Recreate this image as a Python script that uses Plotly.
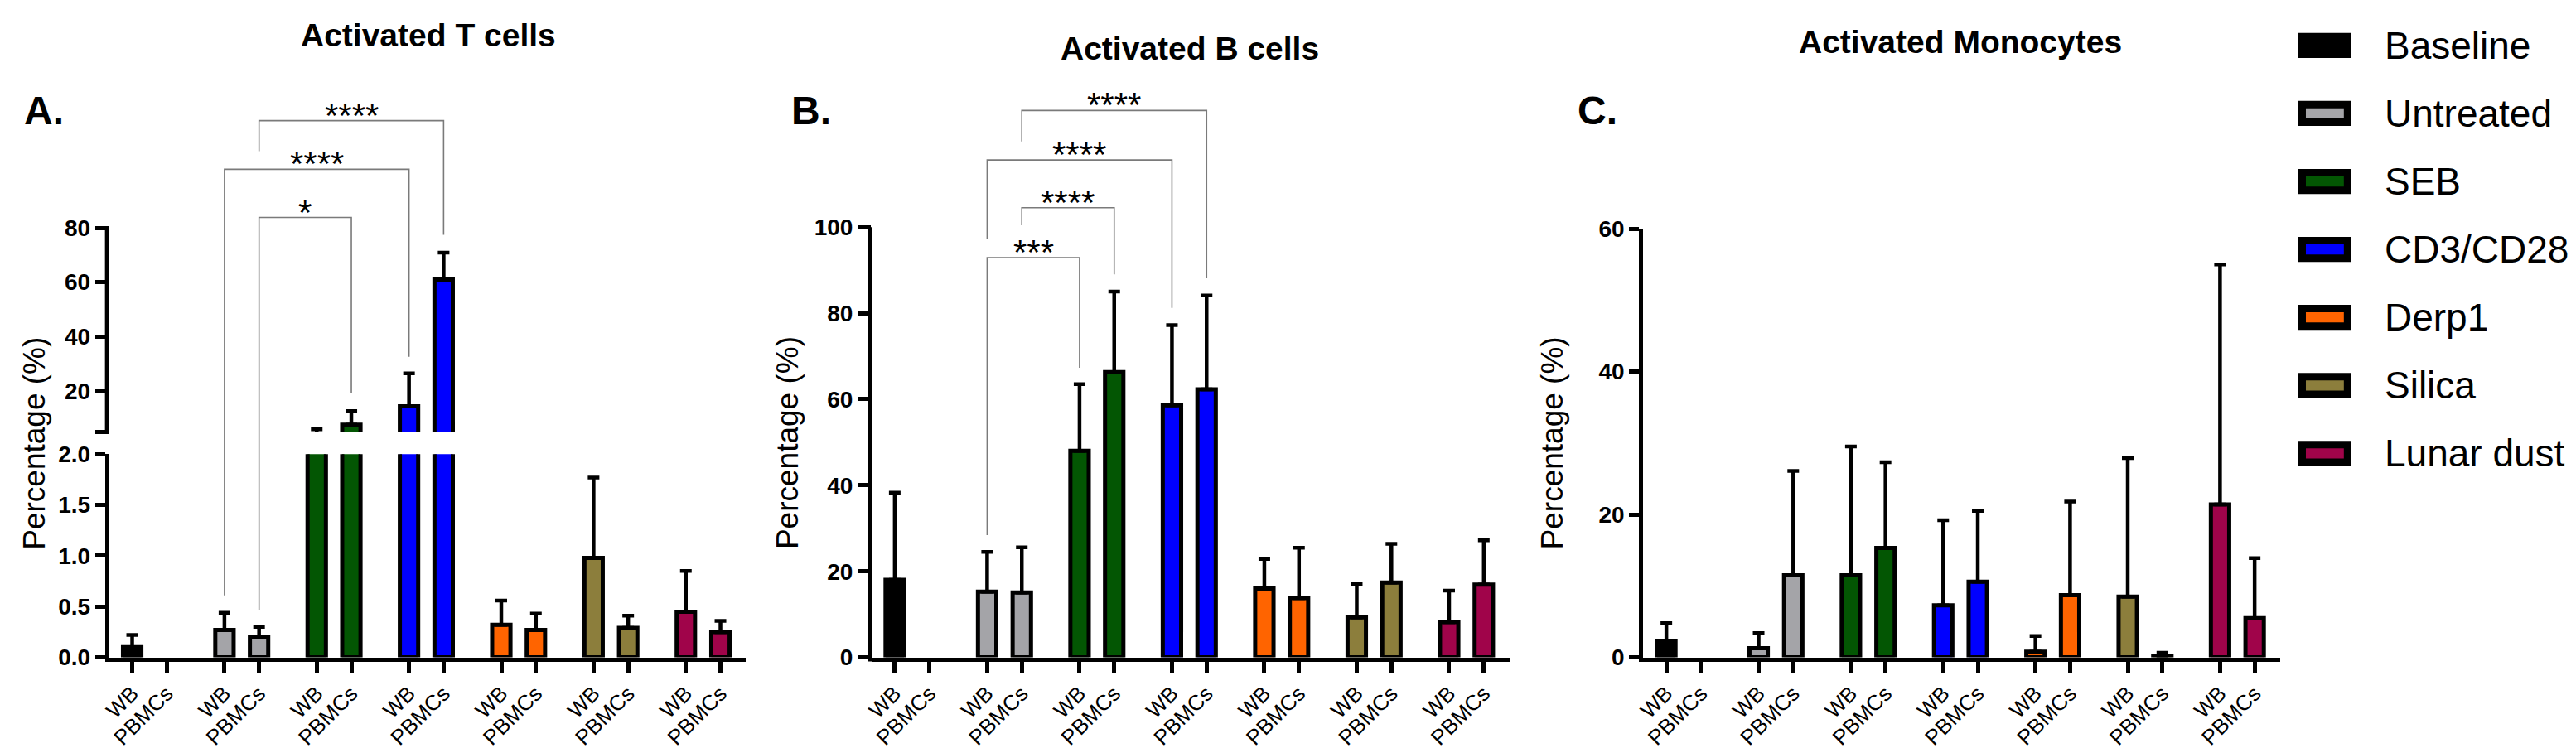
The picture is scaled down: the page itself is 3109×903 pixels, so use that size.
import plotly.graph_objects as go

W, H = 3109, 903

treatments = ["Baseline", "Untreated", "SEB", "CD3/CD28", "Derp1", "Silica", "Lunar dust"]
colors = ["#000000", "#A4A4A8", "#035603", "#0000FF", "#FF6400", "#8C7E3C", "#A0044A"]
sources = ["WB", "PBMCs"]

# activated T cells (%): mean and upper SD, WB and PBMCs (no baseline PBMCs sample)
t_wb = [0.10, 0.27, 4.0, 14.4, 0.32, 0.98, 0.45]
t_wb_sd = [0.12, 0.17, 1.9, 12.1, 0.24, 0.79, 0.40]
t_pb = [None, 0.20, 7.6, 61.0, 0.27, 0.29, 0.25]
t_pb_sd = [None, 0.10, 5.0, 9.9, 0.16, 0.12, 0.11]

# activated B cells (%)
b_wb = [18.0, 15.3, 48.0, 58.6, 16.0, 9.3, 8.2]
b_wb_sd = [20.3, 9.2, 15.5, 18.6, 6.9, 7.8, 7.3]
b_pb = [None, 15.1, 66.3, 62.3, 13.8, 17.4, 16.9]
b_pb_sd = [None, 10.5, 18.7, 21.8, 11.7, 9.0, 10.3]

# activated monocytes (%)
m_wb = [2.3, 1.3, 11.5, 7.3, 0.8, 8.5, 21.4]
m_wb_sd = [2.5, 2.1, 18.0, 11.9, 2.2, 19.4, 33.6]
m_pb = [None, 11.5, 15.3, 10.6, 8.7, 0.2, 5.5]
m_pb_sd = [None, 14.6, 12.0, 9.9, 13.1, 0.45, 8.4]

# significance brackets: left bar, right bar, stars, top, left leg end, right leg end
# a bar is (treatment index, source index)
t_sig = [((1, 1), (2, 1), "*", 83.8, (0.47, "low"), (19.1, "up")),
         ((1, 0), (3, 0), "****", 101.5, (0.61, "low"), (32.6, "up")),
         ((1, 1), (3, 1), "****", 119.4, (108.2, "up"), (77.4, "up"))]
b_sig = [((1, 0), (2, 0), "***", 92.9, 28.4, 67.3),
         ((1, 1), (2, 1), "****", 104.5, 100.4, 89.0),
         ((1, 0), (3, 0), "****", 115.6, 97.2, 81.2),
         ((1, 1), (3, 1), "****", 127.1, 119.9, 88.1)]

FONT = "Arial, Liberation Sans, sans-serif"
GROUP = 8 / 3


def pos(g, s):
    return g * GROUP + s


def fx(p):
    return p / W


def fy(p):
    return 1 - p / H


# geometry (pixels)
A_X, B_X, C_X = (115, 886), (1038, 1810), (1972, 2743)
X_RANGE = [-0.667, 17.74]
A_LOW_Y, A_LOW_R = (798, 544), [0, 2]
A_UP_Y, A_UP_R = (516, 60), [5, 139.1]
B_Y, B_R = (798, 60), [0, 137.2]
C_Y, C_R = (798, 262), [0, 60]


def a_paper(v, part):
    (b, t), (r0, r1) = (A_LOW_Y, A_LOW_R) if part == "low" else (A_UP_Y, A_UP_R)
    return fy(b) + (v - r0) / (r1 - r0) * (fy(t) - fy(b))


fig = go.Figure()


def add_bars(wb, wb_sd, pb, pb_sd, xa, ya):
    for i, name in enumerate(treatments):
        fig.add_trace(go.Bar(
            x=[pos(i, 0), pos(i, 1)], y=[wb[i], pb[i]], width=0.53, name=name,
            marker=dict(color=colors[i], line=dict(color="black", width=5)),
            error_y=dict(type="data", symmetric=False, array=[wb_sd[i], pb_sd[i]],
                         arrayminus=[0, 0], color="black", thickness=4.5, width=7),
            xaxis=xa, yaxis=ya, showlegend=False))


add_bars(t_wb, t_wb_sd, t_pb, t_pb_sd, "x", "y")
add_bars(t_wb, t_wb_sd, t_pb, t_pb_sd, "x", "y2")
add_bars(b_wb, b_wb_sd, b_pb, b_pb_sd, "x2", "y3")
add_bars(m_wb, m_wb_sd, m_pb, m_pb_sd, "x3", "y4")

tickvals = [pos(g, s) for g in range(len(treatments)) for s in range(2)]
ticktext = sources * len(treatments)

xcommon = dict(range=X_RANGE, showline=True, linewidth=5, linecolor="black",
               ticks="outside", ticklen=13, tickwidth=4.5, tickcolor="black",
               tickvals=tickvals, ticktext=ticktext, tickangle=-45,
               tickfont=dict(family=FONT, size=26, color="black"),
               showgrid=False, zeroline=False, fixedrange=True)
ycommon = dict(ticks="outside", tickwidth=5, tickcolor="black", linecolor="black",
               linewidth=5, tickfont=dict(family=FONT, size=28, color="black", weight="bold"),
               showgrid=False, zeroline=False, fixedrange=True)

fig.update_layout(
    width=W, height=H, autosize=False, barmode="overlay",
    margin=dict(l=0, r=0, t=0, b=0),
    paper_bgcolor="white", plot_bgcolor="white",
    xaxis=dict(domain=[fx(A_X[0]), fx(A_X[1])], anchor="y", **xcommon),
    xaxis2=dict(domain=[fx(B_X[0]), fx(B_X[1])], anchor="y3", **xcommon),
    xaxis3=dict(domain=[fx(C_X[0]), fx(C_X[1])], anchor="y4", **xcommon),
    yaxis=dict(domain=[fy(A_LOW_Y[0]), fy(A_LOW_Y[1])], range=A_LOW_R, anchor="x",
               showline=True, ticklen=12, tickvals=[0, 0.5, 1, 1.5, 2],
               ticktext=["0.0", "0.5", "1.0", "1.5", "2.0"], **ycommon),
    yaxis2=dict(domain=[fy(A_UP_Y[0]), fy(A_UP_Y[1])], range=A_UP_R, anchor="x",
                showline=False, ticklen=16, tickvals=[5, 20, 40, 60, 80],
                ticktext=["", "20", "40", "60", "80"], **ycommon),
    yaxis3=dict(domain=[fy(B_Y[0]), fy(B_Y[1])], range=B_R, anchor="x2",
                showline=False, ticklen=16, tickvals=[0, 20, 40, 60, 80, 100], **ycommon),
    yaxis4=dict(domain=[fy(C_Y[0]), fy(C_Y[1])], range=C_R, anchor="x3",
                showline=True, ticklen=12, tickvals=[0, 20, 40, 60], **ycommon),
)

shapes = []
annotations = []

# y axis lines for the axes whose range runs above the last tick
shapes.append(dict(type="line", xref="x domain", yref="y2 domain",
                   x0=-2.5 / (A_X[1] - A_X[0]), x1=-2.5 / (A_X[1] - A_X[0]),
                   y0=0, y1=(80 - A_UP_R[0]) / (A_UP_R[1] - A_UP_R[0]),
                   line=dict(color="black", width=5)))
shapes.append(dict(type="line", xref="x2 domain", yref="y3 domain",
                   x0=-2.5 / (B_X[1] - B_X[0]), x1=-2.5 / (B_X[1] - B_X[0]),
                   y0=-5 / (B_Y[0] - B_Y[1]), y1=100 / B_R[1],
                   line=dict(color="black", width=5)))

BR = dict(color="#7a7a7a", width=1.6)
STAR = dict(family=FONT, size=42, color="black")

for l, r, lab, top, le, re in t_sig:
    xl, xr = pos(*l), pos(*r)
    yt = a_paper(top, "up")
    shapes.append(dict(type="path", xref="x", yref="paper", line=BR,
                       path=f"M{xl},{a_paper(*le)} L{xl},{yt} L{xr},{yt} L{xr},{a_paper(*re)}"))
    annotations.append(dict(x=(xl + xr) / 2, y=yt, xref="x", yref="paper", text=lab,
                            showarrow=False, yanchor="bottom", yshift=-19, font=STAR))

for l, r, lab, top, le, re in b_sig:
    xl, xr = pos(*l), pos(*r)
    shapes.append(dict(type="path", xref="x2", yref="y3", line=BR,
                       path=f"M{xl},{le} L{xl},{top} L{xr},{top} L{xr},{re}"))
    annotations.append(dict(x=(xl + xr) / 2, y=top, xref="x2", yref="y3", text=lab,
                            showarrow=False, yanchor="bottom", yshift=-19, font=STAR))

# panel titles, letters and y titles
for text, x, y in [("Activated T cells", 501, 20), ("Activated B cells", 1423, 37),
                   ("Activated Monocytes", 2356, 28)]:
    annotations.append(dict(x=fx(x), y=fy(y), xref="paper", yref="paper", text=text,
                            showarrow=False, xanchor="center", yanchor="middle",
                            font=dict(family=FONT, size=39, color="black", weight="bold")))
for text, x in [("A.", 10), ("B.", 939), ("C.", 1890)]:
    annotations.append(dict(x=fx(x), y=fy(114), xref="paper", yref="paper", text=text,
                            showarrow=False, xanchor="left", yanchor="middle",
                            font=dict(family=FONT, size=48, color="black", weight="bold")))
for x in [25, 937, 1862]:
    annotations.append(dict(x=fx(x), y=fy(530), xref="paper", yref="paper",
                            text="Percentage (%)", textangle=-90, showarrow=False,
                            xanchor="center", yanchor="middle",
                            font=dict(family=FONT, size=37, color="black")))

# legend
for i, name in enumerate(treatments):
    cy = 33 + 85 * i
    shapes.append(dict(type="rect", xref="paper", yref="paper",
                       x0=fx(2769.5), x1=fx(2824.5), y0=fy(cy - 11), y1=fy(cy + 11),
                       fillcolor=colors[i], line=dict(color="black", width=9)))
    annotations.append(dict(x=fx(2867), y=fy(cy), xref="paper", yref="paper", text=name,
                            showarrow=False, xanchor="left", yanchor="middle",
                            font=dict(family=FONT, size=46, color="black")))

fig.update_layout(shapes=shapes, annotations=annotations)

fig.write_html("out.html")
